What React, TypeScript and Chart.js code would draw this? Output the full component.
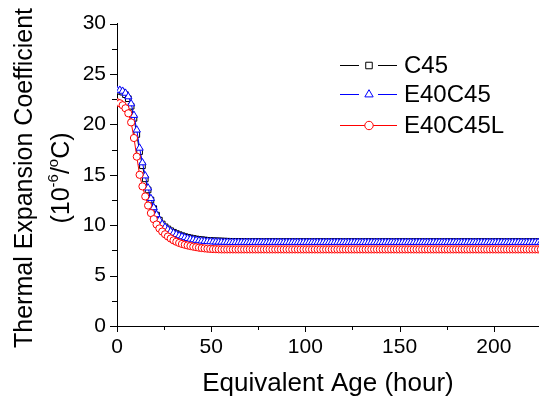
import React, { useEffect, useRef } from 'react';
import { Chart, registerables } from 'chart.js';

Chart.register(...registerables);

const FONT = '"Liberation Sans", Arial, Helvetica, sans-serif';

// Equivalent age (hour)
const hours = [
  0, 1.5, 3, 4.5, 6, 7.5, 9, 10.5, 12, 13.5,
  15, 16.5, 18, 19.5, 21, 22.5, 24, 25.5, 27, 28.5,
  30, 31.5, 33, 34.5, 36, 37.5, 39, 40.5, 42, 43.5,
  45, 46.5, 48, 49.5, 51, 52.5, 54, 55.5, 57, 58.5,
  60, 61.5, 63, 64.5, 66, 67.5, 69, 70.5, 72, 73.5,
  75, 76.5, 78, 79.5, 81, 82.5, 84, 85.5, 87, 88.5,
  90, 91.5, 93, 94.5, 96, 97.5, 99, 100.5, 102, 103.5,
  105, 106.5, 108, 109.5, 111, 112.5, 114, 115.5, 117, 118.5,
  120, 121.5, 123, 124.5, 126, 127.5, 129, 130.5, 132, 133.5,
  135, 136.5, 138, 139.5, 141, 142.5, 144, 145.5, 147, 148.5,
  150, 151.5, 153, 154.5, 156, 157.5, 159, 160.5, 162, 163.5,
  165, 166.5, 168, 169.5, 171, 172.5, 174, 175.5, 177, 178.5,
  180, 181.5, 183, 184.5, 186, 187.5, 189, 190.5, 192, 193.5,
  195, 196.5, 198, 199.5, 201, 202.5, 204, 205.5, 207, 208.5,
  210, 211.5, 213, 214.5, 216, 217.5, 219, 220.5, 222, 223.5,
  225,
];

const c45 = [
  23.3, 23.3, 23.2, 22.95, 22.55, 21.8, 20.6, 19.0, 17.3, 15.9,
  14.6, 13.5, 12.5, 11.65, 11.0, 10.5, 10.12, 9.84, 9.63, 9.45,
  9.3, 9.17, 9.06, 8.96, 8.87, 8.8, 8.74, 8.68, 8.63, 8.59,
  8.56, 8.53, 8.5, 8.48, 8.46, 8.45, 8.44, 8.43, 8.42, 8.41,
  8.4, 8.4, 8.39, 8.39, 8.38, 8.38, 8.38, 8.37, 8.37, 8.37,
  8.37, 8.37, 8.37, 8.37, 8.37, 8.37, 8.37, 8.37, 8.37, 8.37,
  8.37, 8.37, 8.37, 8.37, 8.37, 8.37, 8.37, 8.37, 8.37, 8.37,
  8.37, 8.37, 8.37, 8.37, 8.37, 8.37, 8.37, 8.37, 8.37, 8.37,
  8.37, 8.37, 8.37, 8.37, 8.37, 8.37, 8.37, 8.37, 8.37, 8.37,
  8.37, 8.37, 8.37, 8.37, 8.37, 8.37, 8.37, 8.37, 8.37, 8.37,
  8.37, 8.37, 8.37, 8.37, 8.37, 8.37, 8.37, 8.37, 8.37, 8.37,
  8.37, 8.37, 8.37, 8.37, 8.37, 8.37, 8.37, 8.37, 8.37, 8.37,
  8.37, 8.37, 8.37, 8.37, 8.37, 8.37, 8.37, 8.37, 8.37, 8.37,
  8.37, 8.37, 8.37, 8.37, 8.37, 8.37, 8.37, 8.37, 8.37, 8.37,
  8.37, 8.37, 8.37, 8.37, 8.37, 8.37, 8.37, 8.37, 8.37, 8.37,
  8.37,
];

const e40c45 = [
  23.4, 23.4, 23.3, 23.1, 22.75, 22.05, 20.9, 19.45, 17.65, 16.2,
  14.9, 13.7, 12.65, 11.75, 11.05, 10.5, 10.1, 9.8, 9.57, 9.38,
  9.22, 9.08, 8.96, 8.86, 8.77, 8.69, 8.62, 8.56, 8.51, 8.47,
  8.44, 8.41, 8.39, 8.37, 8.35, 8.34, 8.33, 8.32, 8.31, 8.31,
  8.3, 8.3, 8.3, 8.3, 8.3, 8.3, 8.3, 8.3, 8.3, 8.3,
  8.3, 8.3, 8.3, 8.3, 8.3, 8.3, 8.3, 8.3, 8.3, 8.3,
  8.3, 8.3, 8.3, 8.3, 8.3, 8.3, 8.3, 8.3, 8.3, 8.3,
  8.3, 8.3, 8.3, 8.3, 8.3, 8.3, 8.3, 8.3, 8.3, 8.3,
  8.3, 8.3, 8.3, 8.3, 8.3, 8.3, 8.3, 8.3, 8.3, 8.3,
  8.3, 8.3, 8.3, 8.3, 8.3, 8.3, 8.3, 8.3, 8.3, 8.3,
  8.3, 8.3, 8.3, 8.3, 8.3, 8.3, 8.3, 8.3, 8.3, 8.3,
  8.3, 8.3, 8.3, 8.3, 8.3, 8.3, 8.3, 8.3, 8.3, 8.3,
  8.3, 8.3, 8.3, 8.3, 8.3, 8.3, 8.3, 8.3, 8.3, 8.3,
  8.3, 8.3, 8.3, 8.3, 8.3, 8.3, 8.3, 8.3, 8.3, 8.3,
  8.3, 8.3, 8.3, 8.3, 8.3, 8.3, 8.3, 8.3, 8.3, 8.3,
  8.3,
];

const e40c45l = [
  22.2, 22.1, 21.9, 21.6, 21.1, 20.2, 18.65, 16.8, 15.0, 13.85,
  12.85, 11.95, 11.2, 10.6, 10.07, 9.68, 9.37, 9.1, 8.88, 8.68,
  8.5, 8.36, 8.24, 8.14, 8.06, 7.99, 7.93, 7.87, 7.82, 7.77,
  7.73, 7.7, 7.67, 7.65, 7.63, 7.62, 7.61, 7.6, 7.6, 7.6,
  7.6, 7.6, 7.6, 7.6, 7.6, 7.6, 7.6, 7.6, 7.6, 7.6,
  7.6, 7.6, 7.6, 7.6, 7.6, 7.6, 7.6, 7.6, 7.6, 7.6,
  7.6, 7.6, 7.6, 7.6, 7.6, 7.6, 7.6, 7.6, 7.6, 7.6,
  7.6, 7.6, 7.6, 7.6, 7.6, 7.6, 7.6, 7.6, 7.6, 7.6,
  7.6, 7.6, 7.6, 7.6, 7.6, 7.6, 7.6, 7.6, 7.6, 7.6,
  7.6, 7.6, 7.6, 7.6, 7.6, 7.6, 7.6, 7.6, 7.6, 7.6,
  7.6, 7.6, 7.6, 7.6, 7.6, 7.6, 7.6, 7.6, 7.6, 7.6,
  7.6, 7.6, 7.6, 7.6, 7.6, 7.6, 7.6, 7.6, 7.6, 7.6,
  7.6, 7.6, 7.6, 7.6, 7.6, 7.6, 7.6, 7.6, 7.6, 7.6,
  7.6, 7.6, 7.6, 7.6, 7.6, 7.6, 7.6, 7.6, 7.6, 7.6,
  7.6, 7.6, 7.6, 7.6, 7.6, 7.6, 7.6, 7.6, 7.6, 7.6,
  7.6,
];

const seriesNames = ['C45', 'E40C45', 'E40C45L'];
const seriesColors = ['#000000', '#0000ff', '#ff0000'];
const seriesStyles = ['rect', 'triangle', 'circle'];
const seriesRadius = [4, 4.2, 3.6];
const seriesValues = [c45, e40c45, e40c45l];

const xMin = 0;
const xMax = 224;
const xTickValues = [0, 25, 50, 75, 100, 125, 150, 175, 200];
const xLabelStep = 50;
const yMin = 0;
const yMax = 30;
const yTickValues = [0, 2.5, 5, 7.5, 10, 12.5, 15, 17.5, 20, 22.5, 25, 27.5, 30];
const yLabelStep = 5;

const yTitleLine1 = 'Thermal Expansion Coefficient';
const xTitle = 'Equivalent Age (hour)';

function drawMarker(ctx: CanvasRenderingContext2D, style: string, x: number, y: number, r: number, color: string) {
  ctx.save();
  ctx.beginPath();
  if (style === 'rect') {
    const s = Math.SQRT1_2 * r;
    ctx.rect(x - s, y - s, 2 * s, 2 * s);
  } else if (style === 'triangle') {
    let rad = 0;
    ctx.moveTo(x + Math.sin(rad) * r, y - Math.cos(rad) * r);
    rad += (2 * Math.PI) / 3;
    ctx.lineTo(x + Math.sin(rad) * r, y - Math.cos(rad) * r);
    rad += (2 * Math.PI) / 3;
    ctx.lineTo(x + Math.sin(rad) * r, y - Math.cos(rad) * r);
    ctx.closePath();
  } else {
    ctx.arc(x, y, r, 0, Math.PI * 2);
  }
  ctx.fillStyle = '#ffffff';
  ctx.fill();
  ctx.strokeStyle = color;
  ctx.lineWidth = 1;
  ctx.stroke();
  ctx.restore();
}

export default function App() {
  const ref = useRef<HTMLCanvasElement>(null);

  useEffect(() => {
    const canvas = ref.current;
    if (!canvas) return;

    const datasets = seriesNames.map((name, i) => ({
      label: name,
      data: hours.map((h, k) => ({ x: h, y: seriesValues[i][k] })),
      borderColor: seriesColors[i],
      backgroundColor: '#ffffff',
      borderWidth: 1,
      pointStyle: seriesStyles[i] as any,
      pointRadius: seriesRadius[i],
      pointBorderColor: seriesColors[i],
      pointBackgroundColor: '#ffffff',
      pointBorderWidth: 1,
      tension: 0,
      fill: false,
      order: 3 - i,
    }));

    const customPlugin = {
      id: 'customDecor',
      afterDraw(chart: any) {
        const ctx: CanvasRenderingContext2D = chart.ctx;
        const xs = chart.scales.x;
        const ys = chart.scales.y;
        const area = chart.chartArea;
        ctx.save();
        ctx.strokeStyle = '#000';
        ctx.lineWidth = 1;
        // x ticks (outside, downwards)
        xs.ticks.forEach((t: any) => {
          const px = Math.round(xs.getPixelForValue(t.value)) + 0.5;
          const len = t.value % xLabelStep === 0 ? 6 : 4;
          ctx.beginPath();
          ctx.moveTo(px, area.bottom);
          ctx.lineTo(px, area.bottom + len);
          ctx.stroke();
        });
        // y ticks (outside, leftwards)
        ys.ticks.forEach((t: any) => {
          const py = Math.round(ys.getPixelForValue(t.value)) + 0.5;
          const len = t.value % yLabelStep === 0 ? 7 : 5;
          ctx.beginPath();
          ctx.moveTo(area.left, py);
          ctx.lineTo(area.left - len, py);
          ctx.stroke();
        });

        // y title (rotated, two lines)
        ctx.fillStyle = '#000';
        ctx.save();
        ctx.translate(25, 178);
        ctx.rotate(-Math.PI / 2);
        ctx.textAlign = 'center';
        ctx.textBaseline = 'middle';
        ctx.font = `25px ${FONT}`;
        ctx.fillText(yTitleLine1, 0, 0);
        ctx.restore();

        ctx.save();
        ctx.translate(62, 178);
        ctx.rotate(-Math.PI / 2);
        ctx.textAlign = 'left';
        ctx.textBaseline = 'middle';
        const mainFont = `25px ${FONT}`;
        const supFont = `15px ${FONT}`;
        const parts: [string, boolean][] = [['(10', false], ['-6', true], ['/', false], ['o', true], ['C)', false]];
        let total = 0;
        parts.forEach(([s, sup]) => {
          ctx.font = sup ? supFont : mainFont;
          total += ctx.measureText(s).width;
        });
        let cx = -total / 2;
        parts.forEach(([s, sup]) => {
          ctx.font = sup ? supFont : mainFont;
          ctx.fillText(s, cx, sup ? -8 : 0);
          cx += ctx.measureText(s).width;
        });
        ctx.restore();

        // legend
        const rows = [65, 94, 125];
        seriesNames.forEach((name, i) => {
          const y = rows[i] + 0.5;
          const color = seriesColors[i];
          ctx.strokeStyle = color;
          ctx.lineWidth = 1;
          ctx.beginPath();
          if (i < 2) {
            ctx.moveTo(340, y);
            ctx.lineTo(359, y);
            ctx.moveTo(378, y);
            ctx.lineTo(397, y);
          } else {
            ctx.moveTo(340, y);
            ctx.lineTo(397, y);
          }
          ctx.stroke();
          drawMarker(ctx, seriesStyles[i], 369, y, seriesRadius[i] + 0.6, color);
          ctx.fillStyle = '#000';
          ctx.font = `24px ${FONT}`;
          ctx.textAlign = 'left';
          ctx.textBaseline = 'middle';
          ctx.fillText(name, 404, rows[i] + 1);
        });
        ctx.restore();
      },
    };

    const chart = new Chart(canvas, {
      type: 'line',
      data: { datasets: datasets as any },
      options: {
        animation: false,
        responsive: false,
        devicePixelRatio: 1,
        layout: { autoPadding: false, padding: { top: 16, right: 0, left: 0, bottom: 0 } },
        plugins: {
          legend: { display: false },
          tooltip: { enabled: false },
        },
        scales: {
          x: {
            type: 'linear',
            min: xMin,
            max: xMax,
            afterBuildTicks: (scale: any) => {
              scale.ticks = xTickValues.map((v) => ({ value: v }));
            },
            grid: {
              display: true,
              drawOnChartArea: false,
              drawTicks: true,
              tickLength: 9,
              tickColor: 'rgba(0,0,0,0)',
            },
            border: { display: true, color: '#000', width: 1 },
            ticks: {
              autoSkip: false,
              maxRotation: 0,
              padding: 0,
              color: '#000',
              font: { family: FONT, size: 21 },
              callback: (v: any) => (Number(v) % xLabelStep === 0 ? String(v) : ''),
            },
            title: {
              display: true,
              text: xTitle,
              color: '#000',
              font: { family: FONT, size: 26 },
              padding: { top: 0, bottom: 4 },
            },
            afterFit: (scale: any) => {
              scale.height = 77;
            },
          },
          y: {
            type: 'linear',
            min: yMin,
            max: yMax,
            afterBuildTicks: (scale: any) => {
              scale.ticks = yTickValues.map((v) => ({ value: v }));
            },
            grid: { display: false, drawTicks: false },
            border: { display: true, color: '#000', width: 1 },
            ticks: {
              autoSkip: false,
              padding: 11,
              color: '#000',
              font: { family: FONT, size: 21 },
              callback: (v: any) => (Number(v) % yLabelStep === 0 ? String(v) : ''),
            },
            afterFit: (scale: any) => {
              scale.width = 117;
            },
          },
        },
      },
      plugins: [customPlugin],
    });

    return () => chart.destroy();
  }, []);

  return (
    <div style={{ position: 'fixed', left: 0, top: 0, width: 539, height: 403, background: '#fff' }}>
      <canvas ref={ref} width={539} height={403} style={{ display: 'block' }} />
    </div>
  );
}
